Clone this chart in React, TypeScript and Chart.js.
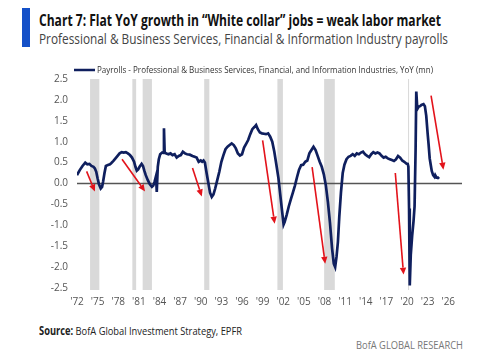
import React, { useEffect, useLayoutEffect, useRef } from "react";
import { Chart, registerables } from "chart.js";

Chart.register(...registerables);

const FONT = "'Open Sans', 'Noto Sans', 'Liberation Sans', sans-serif";

const titleText = "Chart 7: Flat YoY growth in \u201cWhite collar\u201d jobs = weak labor market";
const subtitleText = "Professional & Business Services, Financial & Information Industry payrolls";
const legendText = "Payrolls - Professional & Business Services, Financial, and Information Industries, YoY (mn)";
const sourceLabel = "Source:";
const sourceText = " BofA Global Investment Strategy, EPFR";
const brandText = "BofA GLOBAL RESEARCH";

const years = [
  1972.0, 1972.4, 1972.8, 1973.2, 1973.5, 1973.8, 1974.1, 1974.4, 1974.6, 1974.8,
  1975.0, 1975.2, 1975.45, 1975.65, 1975.8, 1976.0, 1976.2, 1976.5, 1976.8, 1977.0,
  1977.3, 1977.6, 1977.9, 1978.2, 1978.5, 1978.8, 1979.1, 1979.4, 1979.7, 1980.0,
  1980.3, 1980.5, 1980.7, 1980.9, 1981.1, 1981.4, 1981.6, 1981.8, 1982.0, 1982.3,
  1982.6, 1982.9, 1983.1, 1983.3, 1983.5, 1983.6, 1983.75, 1983.9, 1984.1, 1984.4,
  1984.6, 1984.65, 1984.75, 1985.0, 1985.3, 1985.6, 1985.9, 1986.2, 1986.5, 1986.8,
  1987.1, 1987.4, 1987.7, 1988.0, 1988.4, 1988.8, 1989.1, 1989.4, 1989.7, 1990.0,
  1990.2, 1990.4, 1990.6, 1990.85, 1991.1, 1991.35, 1991.6, 1991.85, 1992.1, 1992.4,
  1992.7, 1993.0, 1993.3, 1993.6, 1993.9, 1994.2, 1994.5, 1994.8, 1995.1, 1995.4,
  1995.7, 1996.0, 1996.3, 1996.6, 1996.9, 1997.2, 1997.5, 1997.8, 1998.05, 1998.3,
  1998.6, 1998.9, 1999.2, 1999.5, 1999.8, 2000.1, 2000.4, 2000.7, 2001.0, 2001.3,
  2001.55, 2001.8, 2002.05, 2002.2, 2002.5, 2002.8, 2003.1, 2003.4, 2003.7, 2004.0,
  2004.3, 2004.6, 2004.9, 2005.2, 2005.5, 2005.8, 2006.1, 2006.4, 2006.7, 2007.0,
  2007.3, 2007.6, 2007.9, 2008.2, 2008.5, 2008.8, 2009.1, 2009.35, 2009.55, 2009.75,
  2009.95, 2010.15, 2010.4, 2010.65, 2010.9, 2011.2, 2011.5, 2011.8, 2012.1, 2012.4,
  2012.7, 2013.0, 2013.3, 2013.6, 2013.9, 2014.2, 2014.5, 2014.8, 2015.1, 2015.4,
  2015.7, 2016.0, 2016.3, 2016.6, 2016.9, 2017.2, 2017.5, 2017.8, 2018.1, 2018.4,
  2018.7, 2019.0, 2019.3, 2019.6, 2019.9, 2020.1, 2020.2, 2020.3, 2020.4, 2020.55,
  2020.75, 2020.95, 2021.1, 2021.25, 2021.35, 2021.5, 2021.7, 2021.9, 2022.1, 2022.4,
  2022.6, 2022.8, 2023.0, 2023.15, 2023.3, 2023.45, 2023.6, 2023.8, 2024.0, 2024.1,
  2024.3, 2024.5, 2024.65,
];

const payrolls = [
  0.2, 0.32, 0.42, 0.5, 0.46, 0.47, 0.42, 0.4, 0.36, 0.28,
  0.12, -0.02, -0.12, -0.08, 0.05, 0.25, 0.42, 0.44, 0.46, 0.49,
  0.54, 0.6, 0.66, 0.72, 0.75, 0.74, 0.75, 0.72, 0.68, 0.62,
  0.52, 0.4, 0.31, 0.34, 0.4, 0.47, 0.42, 0.3, 0.2, 0.08,
  -0.02, -0.08, -0.05, 0.05, 0.18, -0.2, 0.4, 0.58, 0.7, 0.74,
  0.73, 1.32, 0.74, 0.72, 0.7, 0.72, 0.68, 0.7, 0.62, 0.66,
  0.68, 0.76, 0.72, 0.7, 0.69, 0.66, 0.64, 0.62, 0.52, 0.55,
  0.52, 0.55, 0.5, 0.25, 0.02, -0.22, -0.32, -0.26, -0.12, 0.08,
  0.28, 0.52, 0.68, 0.82, 0.88, 0.92, 0.96, 0.92, 0.84, 0.72,
  0.67, 0.7, 0.86, 0.95, 1.04, 1.18, 1.3, 1.35, 1.4, 1.3,
  1.22, 1.2, 1.19, 1.18, 1.2, 1.12, 1.0, 0.76, 0.45, 0.13,
  -0.25, -0.62, -0.98, -0.92, -0.75, -0.55, -0.38, -0.22, -0.05, 0.15,
  0.33, 0.44, 0.45, 0.52, 0.55, 0.72, 0.8, 0.88, 0.8, 0.66,
  0.52, 0.4, 0.22, -0.05, -0.45, -0.95, -1.55, -1.92, -2.0, -1.75,
  -1.4, -0.8, -0.2, 0.25, 0.45, 0.58, 0.64, 0.66, 0.7, 0.66,
  0.72, 0.7, 0.74, 0.76, 0.7, 0.66, 0.63, 0.7, 0.75, 0.72,
  0.74, 0.72, 0.66, 0.62, 0.64, 0.6, 0.58, 0.56, 0.54, 0.58,
  0.66, 0.62, 0.55, 0.52, 0.48, 0.47, 0.4, -0.6, -2.44, -1.7,
  -1.25, -0.9, -0.55, 0.8, 2.2, 1.78, 1.84, 1.85, 1.88, 1.9,
  1.85, 1.62, 1.2, 0.92, 0.6, 0.45, 0.3, 0.2, 0.16, 0.2,
  0.14, 0.14, 0.11,
];

const recessionStarts = [1973.9, 1980.05, 1981.55, 1990.5, 2001.15, 2007.95, 2020.15];
const recessionEnds = [1975.25, 1980.6, 1982.9, 1991.25, 2001.95, 2009.5, 2020.3];

const arrowStartX = [1973.4, 1978.55, 1988.8, 1999.0, 2006.2, 2018.3, 2023.5];
const arrowStartY = [0.29, 0.58, 0.37, 1.03, 0.39, 0.25, 2.1];
const arrowEndX = [1974.6, 1981.9, 1990.15, 2000.75, 2008.1, 2019.5, 2025.3];
const arrowEndY = [-0.19, -0.19, -0.31, -0.96, -1.92, -2.18, 0.33];

const xTickYears = [1972, 1975, 1978, 1981, 1984, 1987, 1990, 1993, 1996, 1999, 2002, 2005, 2008, 2011, 2014, 2017, 2020, 2023, 2026];
const yTickValues = [-2.5, -2.0, -1.5, -1.0, -0.5, 0.0, 0.5, 1.0, 1.5, 2.0, 2.5];
const xMin = 1972;
const xMax = 2028;

const LINE_COLOR = "#0f1f5e";

const bandsPlugin = {
  id: "bands",
  beforeDatasetsDraw(chart: any) {
    const { ctx, chartArea, scales } = chart;
    ctx.save();
    ctx.fillStyle = "#d9d9d9";
    for (let i = 0; i < recessionStarts.length; i++) {
      const a = scales.x.getPixelForValue(recessionStarts[i]);
      const b = scales.x.getPixelForValue(recessionEnds[i]);
      ctx.fillRect(a, chartArea.top, Math.max(1, b - a), chartArea.bottom - chartArea.top + 2);
    }
    ctx.restore();
  },
};

const arrowsPlugin = {
  id: "arrows",
  afterDatasetsDraw(chart: any) {
    const { ctx, scales } = chart;
    ctx.save();
    ctx.strokeStyle = "#e3131b";
    ctx.fillStyle = "#e3131b";
    ctx.lineWidth = 1.6;
    for (let i = 0; i < arrowStartX.length; i++) {
      const x1 = scales.x.getPixelForValue(arrowStartX[i]);
      const y1 = scales.y.getPixelForValue(arrowStartY[i]);
      const x2 = scales.x.getPixelForValue(arrowEndX[i]);
      const y2 = scales.y.getPixelForValue(arrowEndY[i]);
      const ang = Math.atan2(y2 - y1, x2 - x1);
      const head = 7;
      const hw = 3.2;
      const bx = x2 - head * Math.cos(ang);
      const by = y2 - head * Math.sin(ang);
      ctx.beginPath();
      ctx.moveTo(x1, y1);
      ctx.lineTo(bx, by);
      ctx.stroke();
      ctx.beginPath();
      ctx.moveTo(x2, y2);
      ctx.lineTo(bx + hw * Math.sin(ang), by - hw * Math.cos(ang));
      ctx.lineTo(bx - hw * Math.sin(ang), by + hw * Math.cos(ang));
      ctx.closePath();
      ctx.fill();
    }
    ctx.restore();
  },
};

const legendPlugin = {
  id: "customLegend",
  afterDraw(chart: any) {
    const { ctx, chartArea } = chart;
    const y = chartArea.top - 9;
    const x0 = chartArea.left - 3;
    ctx.save();
    ctx.strokeStyle = LINE_COLOR;
    ctx.lineWidth = 2.5;
    ctx.beginPath();
    ctx.moveTo(x0, y);
    ctx.lineTo(x0 + 21, y);
    ctx.stroke();
    ctx.fillStyle = "#333333";
    ctx.font = "9.5px " + FONT;
    ctx.textBaseline = "middle";
    ctx.textAlign = "left";
    ctx.fillText(legendText, x0 + 23, y, 336);
    ctx.restore();
  },
};

function FitText(props: { left: number; top: number; width: number; style: any; children: any }) {
  const ref = useRef<HTMLDivElement | null>(null);
  useLayoutEffect(() => {
    const el = ref.current;
    if (!el) return;
    el.style.transform = "none";
    const w = el.getBoundingClientRect().width;
    if (w > 0) el.style.transform = "scaleX(" + props.width / w + ")";
  }, [props.width]);
  return (
    <div
      ref={ref}
      style={{
        position: "absolute",
        left: props.left,
        top: props.top,
        whiteSpace: "nowrap",
        transformOrigin: "left top",
        ...props.style,
      }}
    >
      {props.children}
    </div>
  );
}

export default function App() {
  const canvasRef = useRef<HTMLCanvasElement | null>(null);

  useEffect(() => {
    const canvas = canvasRef.current;
    if (!canvas) return;
    const chart = new Chart(canvas, {
      type: "line",
      data: {
        datasets: [
          {
            label: "Payrolls",
            data: years.map((x, i) => ({ x, y: payrolls[i] })),
            borderColor: LINE_COLOR,
            borderWidth: 2.7,
            pointRadius: 0,
            tension: 0,
            fill: false,
            order: 0,
          },
          {
            label: "zero",
            data: [
              { x: xMin, y: 0 },
              { x: xMax, y: 0 },
            ],
            borderColor: "#555555",
            borderWidth: 1.5,
            pointRadius: 0,
            fill: false,
            order: 1,
          },
        ],
      },
      options: {
        animation: false,
        responsive: false,
        maintainAspectRatio: false,
        layout: { padding: { top: 23, right: 38, bottom: 8, left: 0 } },
        plugins: {
          legend: { display: false },
          tooltip: { enabled: false },
          title: { display: false },
        },
        scales: {
          x: {
            type: "linear",
            min: xMin,
            max: xMax,
            grid: { display: false, drawTicks: false },
            border: { display: false },
            afterBuildTicks: (scale: any) => {
              scale.ticks = xTickYears.map((v) => ({ value: v }));
            },
            afterFit: (scale: any) => {
              scale.height = 20;
            },
            ticks: {
              padding: 8,
              maxRotation: 0,
              autoSkip: false,
              color: "#555555",
              font: { family: FONT, size: 10 },
              callback: (v: any) => "'" + String(v).slice(2),
            },
          },
          y: {
            type: "linear",
            min: -2.5,
            max: 2.5,
            grid: { display: false, drawTicks: false },
            border: { display: false },
            afterBuildTicks: (scale: any) => {
              scale.ticks = yTickValues.map((v) => ({ value: v }));
            },
            afterFit: (scale: any) => {
              scale.width = 77;
            },
            ticks: {
              padding: 9,
              color: "#555555",
              font: { family: FONT, size: 10 },
              callback: (v: any) => Number(v).toFixed(1),
            },
          },
        },
      },
      plugins: [bandsPlugin, arrowsPlugin, legendPlugin],
    });
    return () => chart.destroy();
  }, []);

  return (
    <div style={{ position: "absolute", left: 0, top: 0, width: 500, height: 364, background: "#ffffff", overflow: "hidden", fontFamily: FONT }}>
      <div style={{ position: "absolute", left: 22, top: 8, width: 8, height: 39, background: "#1450c8" }} />
      <FitText left={39} top={10} width={402} style={{ fontSize: 15.5, lineHeight: "20px", fontWeight: "bold", color: "#111111" }}>
        {titleText}
      </FitText>
      <FitText left={39} top={29.5} width={409} style={{ fontSize: 14.5, lineHeight: "18px", color: "#444444" }}>
        {subtitleText}
      </FitText>
      <canvas ref={canvasRef} width={500} height={260} style={{ position: "absolute", left: 0, top: 56, width: 500, height: 260 }} />
      <FitText left={39} top={323.5} width={203} style={{ fontSize: 11.5, lineHeight: "14px", color: "#222222" }}>
        <b>{sourceLabel}</b>
        {sourceText}
      </FitText>
      <FitText left={356} top={338} width={107} style={{ fontSize: 11, lineHeight: "14px", color: "#777777" }}>
        {brandText}
      </FitText>
    </div>
  );
}
